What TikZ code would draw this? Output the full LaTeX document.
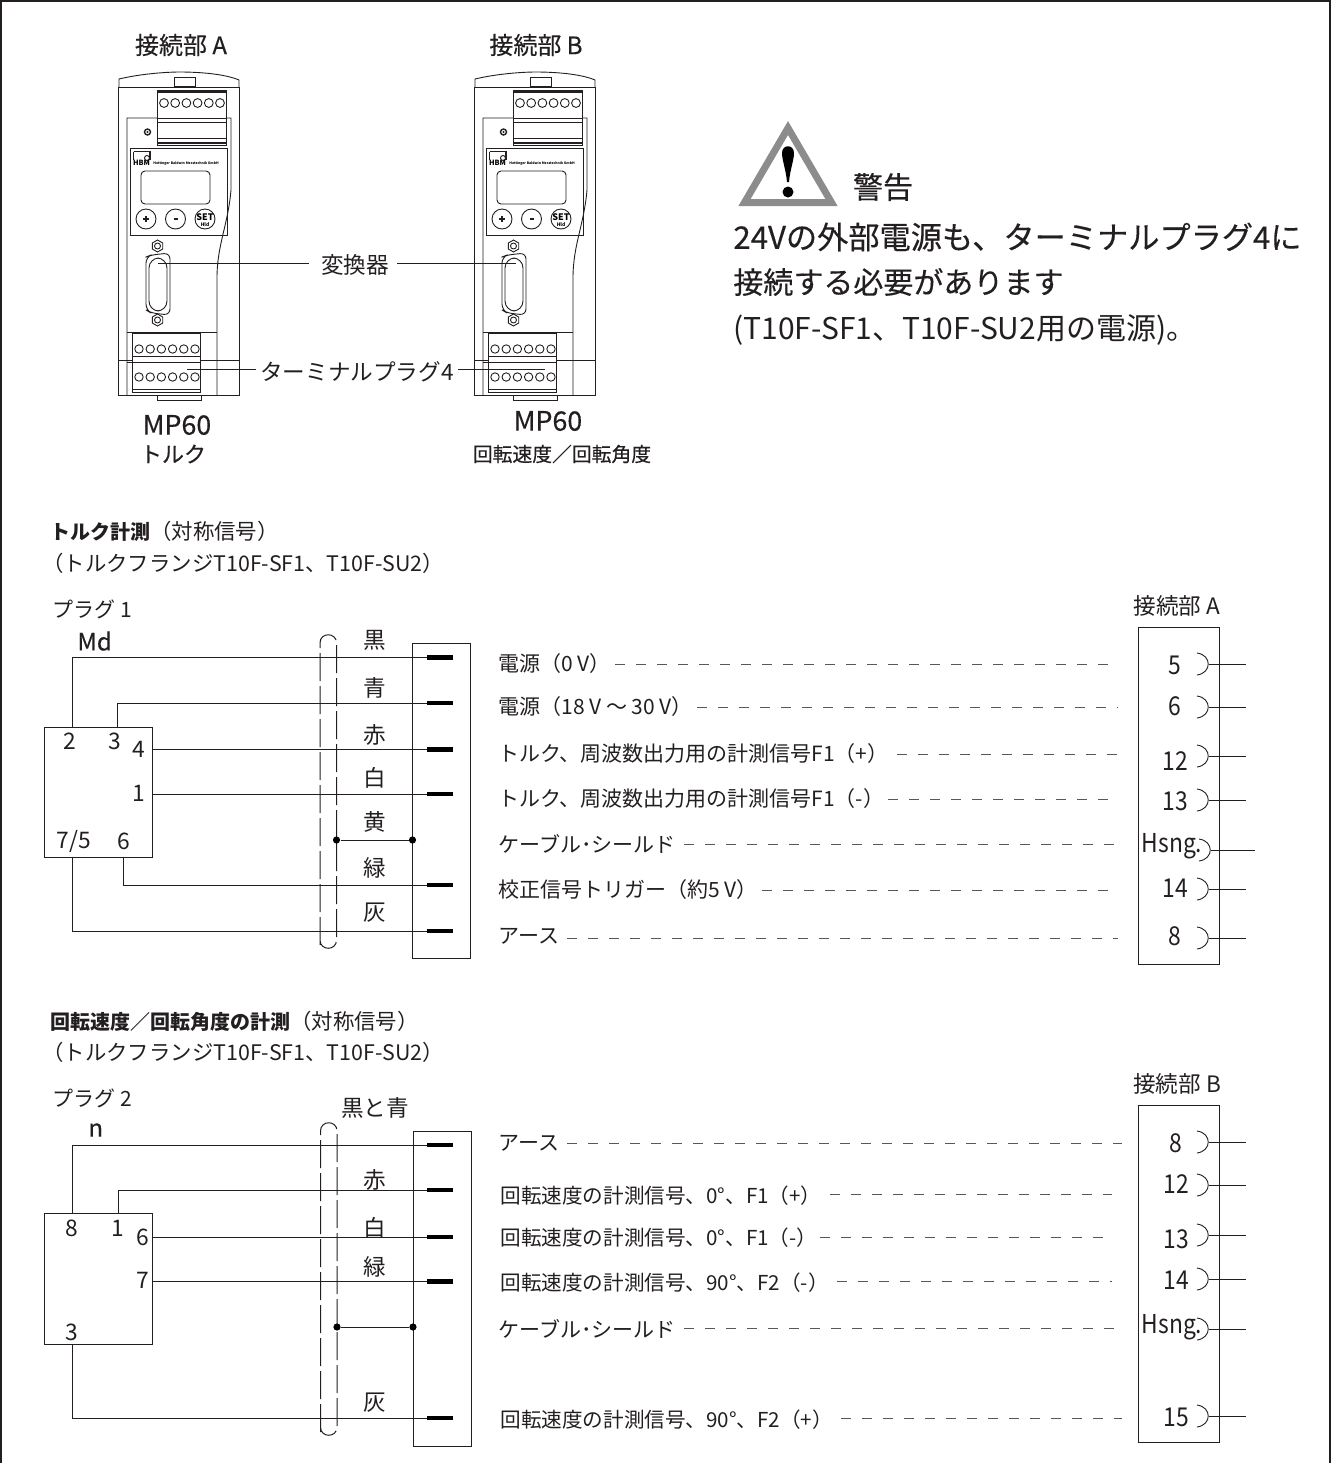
\documentclass[tikz,border=0pt]{standalone}
\usepackage{fontspec}
\usepackage{xcolor}
\setmainfont{Noto Sans CJK JP}
\newfontfamily\medfont[FakeBold=0.35]{Noto Sans CJK JP}
\newfontfamily\numfont[FakeStretch=0.88]{Noto Sans CJK JP}
\definecolor{ink}{HTML}{231F20}
\tikzset{
  lbl/.style={inner sep=0pt,text=ink,font=\fontsize{10.5}{12}\selectfont},
  sublbl/.style={inner sep=0pt,text=ink,font=\fontsize{10.3}{12}\selectfont},
  captxt/.style={inner sep=0pt,text=ink,font=\fontsize{10.7}{12}\selectfont},
  big/.style={inner sep=0pt,text=ink,font=\fontsize{15}{18}\selectfont},
  bigmed/.style={inner sep=0pt,text=ink,font=\fontsize{15}{18}\medfont},
  title/.style={inner sep=0pt,text=ink,font=\fontsize{12}{14}\medfont},
  head/.style={inner sep=0pt,text=ink,font=\fontsize{11.3}{14}\selectfont},
  num/.style={inner sep=0pt,text=ink,font=\fontsize{11.4}{14}\selectfont},
  termnum/.style={inner sep=0pt,text=ink,font=\fontsize{13}{14}\numfont},
  wire/.style={draw=ink,line width=0.5pt},
  fine/.style={draw=ink,line width=0.45pt},
  pinbar/.style={draw=black,line width=2.1pt},
  lead/.style={draw=ink!75,line width=0.5pt,dash pattern=on 5pt off 5.5pt},
  shield/.style={draw=ink,line width=0.5pt,dash pattern=on 14pt off 2.5pt},
  dot/.style={circle,fill=black,inner sep=0pt,minimum size=3.6pt},
  blockbox/.style={draw=ink,line width=0.55pt,inner sep=0pt,anchor=north west}
}
\newcommand{\jackarc}[1]{\draw[fine] ([shift={(-12,-11)}]#1) .. controls ([shift={(3,-9)}]#1) and ([shift={(3,9)}]#1) .. ([shift={(-12,11)}]#1);}
\newcommand{\mpdevice}[1]{
\begin{scope}[shift={(#1,0)},fine]
\draw (119,87) -- (119,79) .. controls (140,74) and (165,72) .. (180,72) .. controls (200,72) and (225,74) .. (239,80) -- (239,87);
\draw (174,77) rectangle (195,86);
\draw (118.5,87) -- (239,87);
\draw (118.5,87) -- (118.5,395) -- (239,395) -- (239,87);
\draw (127,395) -- (127,118) -- (231,118) -- (231,190) .. controls (228,225) and (217,245) .. (217,278) -- (217,395);
\draw[fill=white] (157,90) rectangle (226,145);
\draw[line width=0.8pt] (157,92) -- (226,92) (157,143) -- (226,143);
\draw (158,118) -- (226,118) (158,122) -- (226,122) (158,138) -- (226,138);
\foreach \i in {0,...,5} \draw (164+11.2*\i,103) circle[radius=4.4];
\draw[line width=0.7pt] (147.5,132) circle[radius=3];
\draw[fill=black] (147.5,132) circle[radius=0.6];
\draw (130,148) rectangle (227,235);
\draw[line width=0.7pt] (133.5,151.5) -- (133.5,160) (133.5,151.5) -- (150,151.5) -- (150,160);
\draw (147,158) circle[radius=2.5];
\node[inner sep=0pt,text=black,font=\fontsize{3.6}{4}\bfseries] (logo#1) at (141.5,163) {HBM};
\node[inner sep=0pt,anchor=west,text=black,font=\fontsize{1.7}{2}\bfseries] (maker#1) at (153,163.5) {Hottinger Baldwin Messtechnik GmbH};
\draw[rounded corners=2pt] (141,171) rectangle (210,204);
\draw (146,219) circle[radius=10] (175.5,219) circle[radius=10] (205,219) circle[radius=10];
\draw[line width=1pt] (143,219) -- (149,219) (146,216) -- (146,222) (173.5,219) -- (177.5,219);
\node[inner sep=0pt,text=black,font=\fontsize{4.5}{6}\bfseries] (set#1) at (205,217.5) {SET};
\node[inner sep=0pt,text=black,font=\fontsize{2.4}{3}\bfseries] (hold#1) at (205,224.5) {Hld};
\draw (157.5,246) circle[radius=3];
\draw (157.5,240) -- (162.7,243) -- (162.7,249) -- (157.5,252) -- (152.3,249) -- (152.3,243) -- cycle;
\draw (157.5,320) circle[radius=3];
\draw (157.5,314) -- (162.7,317) -- (162.7,323) -- (157.5,326) -- (152.3,323) -- (152.3,317) -- cycle;
\draw[rounded corners=3pt] (146,257) -- (151,255) -- (170,253) -- (170,315) -- (151,313) -- (146,310) -- cycle;
\draw[rounded corners=5pt] (149,258) rectangle (167,311);
\draw (127,332) -- (217,332);
\draw (118.5,360) -- (132,360) (200,360) -- (239,360);
\draw (127,362) -- (132,362);
\draw[fill=white] (132,333) rectangle (200,392);
\draw (132,356) -- (200,356) (132,362) -- (200,362) (132,389) -- (200,389);
\foreach \i in {0,...,5} {
  \draw (139+11.2*\i,349) circle[radius=4.2];
  \draw (139+11.2*\i,377) circle[radius=4.2];
}
\draw (157,395) -- (157,400) -- (201,400) -- (201,395);
\end{scope}
}
\begin{document}
\begin{tikzpicture}[x=0.5pt,y=-0.5pt]
\useasboundingbox (0,0) rectangle (1335,1463);
\draw[ink,line width=0.6pt] (1,1463) -- (1,1) -- (1330,1) -- (1330,1463);

\node[title] (titleA) at (181,45) {接続部 A};
\node[title] (titleB) at (536,45) {接続部 B};
\mpdevice{0}
\mpdevice{356}
\node[title,font=\fontsize{13.4}{14}\medfont] (mpA) at (177,425) {MP60};
\node[title,font=\fontsize{11}{14}\medfont] (torque) at (173,454) {トルク};
\node[title,font=\fontsize{13.4}{14}\medfont] (mpB) at (548,421) {MP60};
\node[title,font=\fontsize{9.9}{14}\medfont] (speed) at (562,454) {回転速度／回転角度};

\node[head] (conv) at (355,265) {変換器};
\node[head] (term) at (357,372) {ターミナルプラグ4};
\coordinate (convA) at (158,263);
\coordinate (convB) at (516,263);
\coordinate (termA) at (187,369);
\coordinate (termB) at (545,369);
\draw[fine] (convA) -- ([xshift=-6pt,yshift=1pt]conv.west);
\draw[fine] ([xshift=4pt,yshift=1pt]conv.east) -- (convB);
\draw[fine] (termA) -- ([xshift=-2pt,yshift=1.5pt]term.west);
\draw[fine] ([xshift=2pt,yshift=1.5pt]term.east) -- (termB);

\draw[draw=gray!90,fill=white,line width=3.5pt,line join=miter] (788,128) -- (831.5,202.5) -- (744.5,202.5) -- cycle;
\draw[fill=black,draw=none] (782,153) .. controls (782,144) and (794,144) .. (794,153) .. controls (794,160) and (790,170) .. (789,182) -- (787,182) .. controls (786,170) and (782,160) .. (782,153) -- cycle;
\draw[fill=black,draw=none] (788,192) circle[radius=5.5];
\node[bigmed] (warn) at (883,187) {警告};
\node[bigmed,anchor=west,font=\fontsize{15.6}{18}\medfont] (warn1) at (733,237) {24Vの外部電源も、ターミナルプラグ4に};
\node[bigmed,anchor=west] (warn2) at (733,282) {接続する必要があります};
\node[big,anchor=west] (warn3) at (733,330) {(T10F-SF1、T10F-SU2用の電源)。};

% torque
\node[captxt,anchor=west] (capA) at (50,531) {{\fontsize{10}{12}\selectfont\textbf{トルク計測}}（対称信号）};
\node[captxt,anchor=west] (capA2) at (42,563) {（トルクフランジT10F-SF1、T10F-SU2）};
\node[lbl,anchor=west] (plugA) at (52,609) {プラグ 1};
\node[title,anchor=west] (md) at (77,641) {Md};
\node[blockbox,minimum width=54pt,minimum height=65pt] (boxA) at (43.5,726.5) {};
\node[num] (na2) at (70,741) {2};
\node[num] (na3) at (115,741) {3};
\node[num] (na4) at (139,749) {4};
\node[num] (na1) at (139,793) {1};
\node[num] (na75) at (74,841) {7/5};
\node[num] (na6) at (124,841) {6};
\node[blockbox,minimum width=29pt,minimum height=157.5pt] (connA) at (412,643) {};
\coordinate (a2) at (72,726.5);
\coordinate (a3) at (117.5,726.5);
\coordinate (a4) at (151.5,749.5);
\coordinate (a1) at (151.5,794);
\coordinate (a75) at (72,856.5);
\coordinate (a6) at (123,856.5);
\coordinate (pa1) at (427,657.5);
\coordinate (pa2) at (427,703);
\coordinate (pa3) at (427,749.5);
\coordinate (pa4) at (427,794);
\coordinate (pa6) at (427,885);
\coordinate (pa7) at (427,931);
\draw[wire] (a2) |- (pa1);
\draw[wire] (a3) |- (pa2);
\draw[wire] (a4) -- (pa3);
\draw[wire] (a1) -- (pa4);
\draw[wire] (a6) |- (pa6);
\draw[wire] (a75) |- (pa7);
\draw[pinbar] (pa1) -- ++(26,0);
\draw[pinbar] (pa2) -- ++(26,0);
\draw[pinbar] (pa3) -- ++(26,0);
\draw[pinbar] (pa4) -- ++(26,0);
\draw[pinbar] (pa6) -- ++(26,0);
\draw[pinbar] (pa7) -- ++(26,0);
\draw[shield] (320,945) -- (320,643) .. controls (320,632) and (336.5,632) .. (336.5,643) -- (336.5,940) .. controls (336.5,951) and (320,951) .. (320,940);
\node[dot] (sa1) at (336.5,840) {};
\node[dot] (sa2) at (412.5,840) {};
\draw[wire] (sa1) -- (sa2);
\node[head] (ca1) at (375,640) {黒};
\node[head] (ca2) at (375,688) {青};
\node[head] (ca3) at (375,735) {赤};
\node[head] (ca4) at (375,778) {白};
\node[head] (ca5) at (375,822) {黄};
\node[head] (ca6) at (375,868) {緑};
\node[head] (ca7) at (375,913) {灰};

\node[lbl,anchor=west] (ta1) at (498,664) {電源（0 V）};
\node[lbl,anchor=west] (ta2) at (498,707) {電源（18 V ～ 30 V）};
\node[lbl,anchor=west] (ta3) at (498,754) {トルク、周波数出力用の計測信号F1（+）};
\node[lbl,anchor=west] (ta4) at (498,799) {トルク、周波数出力用の計測信号F1（-）};
\node[lbl,anchor=west] (ta5) at (498,844) {ケーブル･シールド};
\node[lbl,anchor=west] (ta6) at (498,890) {校正信号トリガー（約5 V）};
\node[lbl,anchor=west] (ta7) at (498,936) {アース};
\coordinate (ea1) at (1118,664);
\coordinate (ea2) at (1118,707);
\coordinate (ea3) at (1118,754);
\coordinate (ea4) at (1118,799);
\coordinate (ea5) at (1118,844);
\coordinate (ea6) at (1118,890);
\coordinate (ea7) at (1118,938);
\draw[lead] ([xshift=2pt]ta1.east) -- (ea1);
\draw[lead] ([xshift=2pt]ta2.east) -- (ea2);
\draw[lead] ([xshift=4pt]ta3.east) -- (ea3);
\draw[lead] ([xshift=2pt]ta4.east) -- (ea4);
\draw[lead] ([xshift=4pt]ta5.east) -- (ea5);
\draw[lead] ([xshift=2pt]ta6.east) -- (ea6);
\draw[lead] ([xshift=4pt,yshift=-1pt]ta7.east) -- (ea7);

\node[head] (nameA) at (1177,606) {接続部 A};
\node[blockbox,minimum width=40.5pt,minimum height=168.5pt] (termboxA) at (1138,627) {};
\node[termnum] (ra5) at (1175,665) {5};
\node[termnum] (ra6) at (1175,706) {6};
\node[termnum] (ra12) at (1175,761) {12};
\node[termnum] (ra13) at (1175,801) {13};
\node[termnum] (rah) at (1172,846) {Hsng.};
\node[termnum] (ra14) at (1175,888) {14};
\node[termnum] (ra8) at (1175,936) {8};
\coordinate (ja5) at (1209,664);
\coordinate (ja6) at (1209,707);
\coordinate (ja12) at (1209,756);
\coordinate (ja13) at (1209,800);
\coordinate (jah) at (1211,850);
\coordinate (ja14) at (1209,889);
\coordinate (ja8) at (1209,938);
\jackarc{ja5}
\jackarc{ja6}
\jackarc{ja12}
\jackarc{ja13}
\jackarc{jah}
\jackarc{ja14}
\jackarc{ja8}
\draw[wire] (ja5) -- ++(37,0);
\draw[wire] (ja6) -- ++(37,0);
\draw[wire] (ja12) -- ++(37,0);
\draw[wire] (ja13) -- ++(37,0);
\draw[wire] (jah) -- ++(44,0);
\draw[wire] (ja14) -- ++(37,0);
\draw[wire] (ja8) -- ++(37,0);

% speed
\node[captxt,anchor=west] (capB) at (50,1021) {{\fontsize{10}{12}\selectfont\textbf{回転速度／回転角度の計測}}（対称信号）};
\node[captxt,anchor=west] (capB2) at (42,1052) {（トルクフランジT10F-SF1、T10F-SU2）};
\node[lbl,anchor=west] (plugB) at (52,1098) {プラグ 2};
\node[title,anchor=west] (en) at (88,1130) {n};
\node[blockbox,minimum width=54pt,minimum height=65.5pt] (boxB) at (43.5,1213) {};
\node[num] (nb8) at (72,1228) {8};
\node[num] (nb1) at (118,1228) {1};
\node[num] (nb6) at (143,1237) {6};
\node[num] (nb7) at (143,1280) {7};
\node[num] (nb3) at (72,1332) {3};
\node[blockbox,minimum width=29pt,minimum height=157.5pt] (connB) at (412.5,1131) {};
\coordinate (b8) at (72,1213);
\coordinate (b1) at (118,1213);
\coordinate (b6) at (151.5,1237);
\coordinate (b7) at (151.5,1281.5);
\coordinate (b3) at (72,1344);
\coordinate (pb1) at (427,1145);
\coordinate (pb2) at (427,1190);
\coordinate (pb3) at (427,1237);
\coordinate (pb4) at (427,1281.5);
\coordinate (pb5) at (427,1418);
\draw[wire] (b8) |- (pb1);
\draw[wire] (b1) |- (pb2);
\draw[wire] (b6) -- (pb3);
\draw[wire] (b7) -- (pb4);
\draw[wire] (b3) |- (pb5);
\draw[pinbar] (pb1) -- ++(26,0);
\draw[pinbar] (pb2) -- ++(26,0);
\draw[pinbar] (pb3) -- ++(26,0);
\draw[pinbar] (pb4) -- ++(26,0);
\draw[pinbar] (pb5) -- ++(26,0);
\draw[shield] (320.5,1432) -- (320.5,1131) .. controls (320.5,1120) and (337,1120) .. (337,1131) -- (337,1427) .. controls (337,1438) and (320.5,1438) .. (320.5,1427);
\node[dot] (sb1) at (337,1327) {};
\node[dot] (sb2) at (413,1327) {};
\draw[wire] (sb1) -- (sb2);
\node[head] (cb1) at (375,1108) {黒と青};
\node[head] (cb2) at (375,1180) {赤};
\node[head] (cb3) at (375,1228) {白};
\node[head] (cb4) at (375,1267) {緑};
\node[head] (cb5) at (375,1403) {灰};

\node[lbl,anchor=west] (tb1) at (498,1143) {アース};
\node[sublbl,anchor=west] (tb2) at (500,1196) {回転速度の計測信号、0°、F1（+）};
\node[sublbl,anchor=west] (tb3) at (500,1238) {回転速度の計測信号、0°、F1（-）};
\node[sublbl,anchor=west] (tb4) at (500,1283) {回転速度の計測信号、90°、F2（-）};
\node[lbl,anchor=west] (tb5) at (498,1329) {ケーブル･シールド};
\node[sublbl,anchor=west] (tb6) at (500,1420) {回転速度の計測信号、90°、F2（+）};
\coordinate (eb1) at (1122,1143);
\coordinate (eb2) at (1112,1194);
\coordinate (eb3) at (1112,1237);
\coordinate (eb4) at (1112,1281);
\coordinate (eb5) at (1122,1328);
\coordinate (eb6) at (1122,1418);
\draw[lead] ([xshift=4pt]tb1.east) -- (eb1);
\draw[lead] ([xshift=4pt,yshift=1pt]tb2.east) -- (eb2);
\draw[lead] ([xshift=1pt,yshift=0.5pt]tb3.east) -- (eb3);
\draw[lead] ([xshift=4pt,yshift=1pt]tb4.east) -- (eb4);
\draw[lead] ([xshift=4pt,yshift=0.5pt]tb5.east) -- (eb5);
\draw[lead] ([xshift=4pt,yshift=1pt]tb6.east) -- (eb6);

\node[head] (nameB) at (1177,1084) {接続部 B};
\node[blockbox,minimum width=40.5pt,minimum height=168.5pt] (termboxB) at (1138,1105) {};
\node[termnum] (rb8) at (1176,1143) {8};
\node[termnum] (rb12) at (1176,1184) {12};
\node[termnum] (rb13) at (1176,1239) {13};
\node[termnum] (rb14) at (1176,1280) {14};
\node[termnum] (rbh) at (1172,1327) {Hsng.};
\node[termnum] (rb15) at (1176,1417) {15};
\coordinate (jb8) at (1209,1142);
\coordinate (jb12) at (1209,1185);
\coordinate (jb13) at (1209,1235);
\coordinate (jb14) at (1209,1279);
\coordinate (jbh) at (1209,1329);
\coordinate (jb15) at (1209,1416);
\jackarc{jb8}
\jackarc{jb12}
\jackarc{jb13}
\jackarc{jb14}
\jackarc{jbh}
\jackarc{jb15}
\draw[wire] (jb8) -- ++(37,0);
\draw[wire] (jb12) -- ++(37,0);
\draw[wire] (jb13) -- ++(37,0);
\draw[wire] (jb14) -- ++(37,0);
\draw[wire] (jbh) -- ++(37,0);
\draw[wire] (jb15) -- ++(37,0);
\end{tikzpicture}
\end{document}
